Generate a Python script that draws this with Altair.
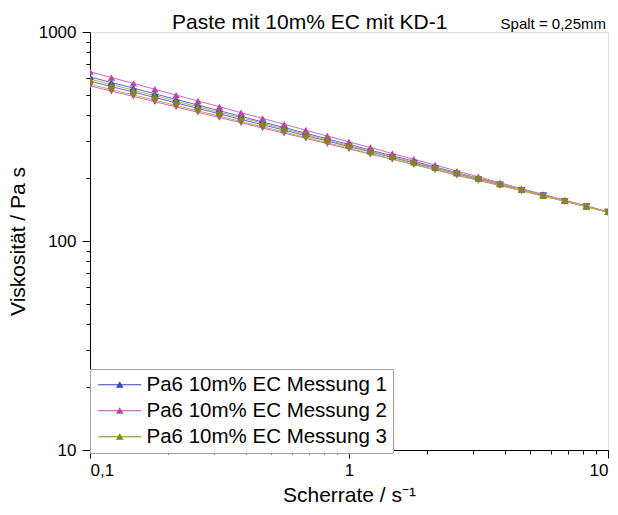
import altair as alt
import pandas as pd

# Shear rate steps (log spaced, 12 points per decade)
shear_rate = [0.1, 0.121, 0.147, 0.178, 0.215, 0.261, 0.316, 0.383, 0.464, 0.562,
              0.681, 0.825, 1.0, 1.21, 1.47, 1.78, 2.15, 2.61, 3.16, 3.83,
              4.64, 5.62, 6.81, 8.25, 10.0]

series_names = ["Pa6 10m% EC Messung 1", "Pa6 10m% EC Messung 2", "Pa6 10m% EC Messung 3"]

# Viscosity in Pa s, ramp up ("auf") and ramp down ("ab") for each measurement
m1_up = [610, 573, 539, 506, 476, 447, 420, 395, 371, 349, 328, 308, 290, 272, 256, 241,
         226, 212, 200, 188, 176, 166, 156, 147, 138]
m1_down = [582, 548, 516, 486, 458, 431, 406, 382, 360, 339, 319, 301, 283, 267, 251, 236,
           223, 210, 197, 186, 175, 165, 155, 146, 137]
m2_up = [646, 605, 568, 532, 499, 468, 439, 411, 386, 362, 339, 318, 298, 280, 262, 246,
         231, 216, 203, 190, 178, 167, 157, 147, 138]
m2_down = [552, 521, 492, 464, 438, 413, 390, 368, 347, 328, 310, 292, 276, 260, 246, 232,
           219, 206, 195, 184, 174, 164, 155, 146, 138]
m3_up = [596, 560, 527, 496, 467, 439, 413, 389, 366, 344, 324, 304, 286, 269, 253, 238,
         224, 211, 199, 187, 176, 165, 156, 146, 138]
m3_down = [562, 530, 500, 472, 445, 419, 396, 373, 352, 332, 313, 295, 278, 262, 247, 233,
           220, 208, 196, 185, 174, 164, 155, 146, 137]

line_colors = ["#5a68d8", "#d466c4", "#b4b448"]
marker_colors = ["#3646b8", "#c441a6", "#86861e"]

x_ticks = [0.1, 0.2, 0.3, 0.4, 0.5, 0.6, 0.7, 0.8, 0.9, 1, 2, 3, 4, 5, 6, 7, 8, 9, 10]
y_ticks = [10, 20, 30, 40, 50, 60, 70, 80, 90, 100, 200, 300, 400, 500, 600, 700, 800, 900, 1000]

curves = [
    (series_names[0], "auf", m1_up), (series_names[0], "ab", m1_down),
    (series_names[1], "auf", m2_up), (series_names[1], "ab", m2_down),
    (series_names[2], "auf", m3_up), (series_names[2], "ab", m3_down),
]
rows = []
for name, sweep, values in curves:
    for r, v in zip(shear_rate, values):
        rows.append({"series": name, "sweep": sweep, "rate": r, "visc": v})
df = pd.DataFrame(rows)

FONT = "Liberation Sans"
# legend entry: short line with a small triangle on it
LEGEND_SYMBOL = "M-2.15,-0.06L2.15,-0.06L2.15,0.06L-2.15,0.06Z M-0.38,0.3L0,-0.36L0.38,0.3Z"

x_axis = alt.Axis(
    values=x_ticks, grid=False, domainColor="black", tickColor="black",
    tickSize={"condition": {"test": "datum.value == 0.1 || datum.value == 1 || datum.value == 10", "value": 8}, "value": 4},
    labelExpr="datum.value == 0.1 ? '0,1' : datum.value == 1 ? '1' : datum.value == 10 ? '10' : ''",
    labelOverlap=False, labelFont=FONT, labelFontSize=17, labelColor="black", labelPadding=4,
    titleFont=FONT, titleFontSize=21, titleFontWeight="normal", titleColor="black", titlePadding=6,
)
y_axis = alt.Axis(
    values=y_ticks, grid=False, domainColor="black", tickColor="black",
    tickSize={"condition": {"test": "datum.value == 10 || datum.value == 100 || datum.value == 1000", "value": 8}, "value": 4},
    labelExpr="datum.value == 10 || datum.value == 100 || datum.value == 1000 ? format(datum.value, 'd') : ''",
    labelOverlap=False, labelFont=FONT, labelFontSize=17, labelColor="black", labelPadding=6,
    titleFont=FONT, titleFontSize=21, titleFontWeight="normal", titleColor="black", titlePadding=10,
)

x_enc = alt.X("rate:Q", scale=alt.Scale(type="log", domain=[0.1, 10], nice=False),
              axis=x_axis, title="Scherrate / s⁻¹")
y_enc = alt.Y("visc:Q", scale=alt.Scale(type="log", domain=[10, 1000], nice=False),
              axis=y_axis, title="Viskosität / Pa s")

base = alt.Chart(df)

lines = base.mark_line(strokeWidth=1, clip=True).encode(
    x=x_enc, y=y_enc,
    color=alt.Color("series:N", scale=alt.Scale(domain=series_names, range=line_colors), legend=None),
    detail="sweep:N",
)

points = base.mark_point(filled=True, size=55, opacity=1, clip=True).encode(
    x=x_enc, y=y_enc,
    color=alt.Color(
        "series:N",
        scale=alt.Scale(domain=series_names, range=marker_colors),
        legend=alt.Legend(
            title=None, orient="none", legendX=0, legendY=337, direction="vertical",
            fillColor="white", strokeColor="#a0a0a0", padding=5.5, cornerRadius=0,
            symbolType=LEGEND_SYMBOL, symbolSize=400, symbolStrokeWidth=0, symbolOffset=14,
            labelFont=FONT, labelFontSize=20.5, labelColor="black", labelOffset=16.5,
            rowPadding=5, labelLimit=400,
        ),
    ),
    shape=alt.Shape("sweep:N", scale=alt.Scale(domain=["auf", "ab"], range=["triangle-up", "triangle-down"]),
                    legend=None),
)

gap_note = alt.Chart(pd.DataFrame({"t": ["Spalt = 0,25mm"]})).mark_text(
    align="right", baseline="alphabetic", font=FONT, fontSize=15, color="black"
).encode(text="t:N", x=alt.value(516), y=alt.value(-3))

chart = (
    alt.layer(lines, points, gap_note)
    .resolve_scale(color="independent")
    .properties(
        width=518, height=418,
        title=alt.TitleParams("Paste mit 10m% EC mit KD-1", anchor="start", frame="group", dx=82, dy=21,
                              font=FONT, fontSize=21, fontWeight="normal", color="black", offset=5),
        autosize=alt.AutoSizeParams(type="none"),
        padding={"left": 90, "top": 32, "right": 10, "bottom": 65},
    )
    .configure_view(stroke="black", strokeWidth=1)
    .configure(background="white")
)

chart.save("out.html", embed_options={"renderer": "svg", "actions": False})
